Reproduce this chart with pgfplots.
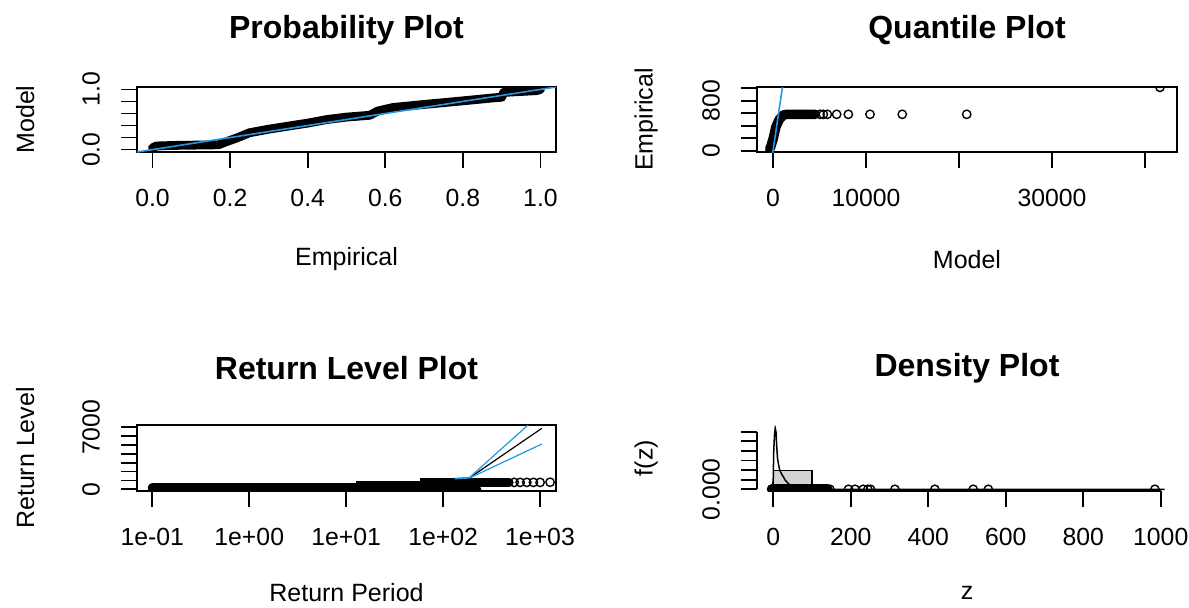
\documentclass[border=0pt]{standalone}
\usepackage{fontspec}
\setmainfont{Liberation Sans}
\usepackage{pgfplots}
\pgfplotsset{compat=1.18}

\definecolor{rblue}{HTML}{2297E6}
\definecolor{histgray}{HTML}{D3D3D3}

% one R-like panel: box, outside ticks on left/bottom, rotated y labels
\pgfplotsset{
  rpanel/.style={
    scale only axis,
    anchor=south west,
    axis line style={line width=0.9pt},
    tick align=outside, tick pos=left,
    major tick length=8pt,
    every tick/.append style={black, line width=0.9pt},
    minor tick num=0,
    scaled ticks=false,
    clip marker paths=true,
    tick label style={font=\fontsize{12.4}{14}\selectfont},
    xticklabel style={anchor=center},
    yticklabel style={rotate=90, anchor=center},
    xticklabel shift=15pt, yticklabel shift=15pt,
    label style={font=\fontsize{12.5}{15}\selectfont},
    title style={font=\bfseries\fontsize{16}{19}\selectfont, anchor=center},
  },
  toprow/.style={height=32.5pt,
    title style={at={(0.5,1.69)}},
    xlabel style={at={(axis description cs:0.5,-1.65)}, anchor=center}},
  botrow/.style={height=33pt,
    title style={at={(0.5,1.68)}},
    xlabel style={at={(axis description cs:0.5,-1.54)}, anchor=center}},
  circ/.style={only marks, mark=o, mark size=2.1pt, mark options={line width=0.7pt, black}},
}

\begin{document}
\begin{tikzpicture}
\useasboundingbox (0,0) rectangle (594.5pt,303.5pt);

% ---------------- Probability plot
\begin{axis}[rpanel, toprow, at={(68.5pt,227.5pt)}, width=209.5pt,
  xmin=-0.04, xmax=1.04, ymin=-0.04, ymax=1.04,
  xtick={0,0.2,0.4,0.6,0.8,1}, xticklabels={0.0,0.2,0.4,0.6,0.8,1.0},
  ytick={0,0.2,0.4,0.6,0.8,1}, yticklabels={0.0,,,,,1.0},
  title={Probability Plot},
  xlabel={Empirical},
  ylabel={Model}, ylabel style={at={(axis description cs:-0.267,0.5)}, anchor=center}]
\addplot[black, line width=4.4pt, line join=round, line cap=round] coordinates {
  (0.0,0.03)(0.01,0.06)(0.06,0.07)(0.17,0.08)(0.19,0.13)(0.22,0.2)(0.25,0.28)
  (0.3,0.34)(0.35,0.39)(0.4,0.44)(0.45,0.5)(0.5,0.54)(0.56,0.57)(0.58,0.64)
  (0.62,0.7)(0.7,0.75)(0.8,0.81)(0.88,0.86)(0.9,0.87)(0.905,0.95)(0.99,0.98)(1.0,1.0)
};
\addplot[rblue, line width=0.8pt] coordinates {(-0.04,-0.04)(1.04,1.04)};
\end{axis}

% ---------------- Quantile plot
\begin{axis}[rpanel, toprow, at={(378.5pt,227.5pt)}, width=210pt,
  xmin=-1720, xmax=43440, ymin=-21, ymax=1021,
  xtick={0,10000,20000,30000,40000}, xticklabels={0,10000,,30000,},
  ytick={0,200,400,600,800,1000}, yticklabels={0,,,,800,},
  title={Quantile Plot},
  xlabel={Model},
  ylabel={Empirical}, ylabel style={at={(axis description cs:-0.264,0.5)}, anchor=center}]
\addplot[black, line width=4.8pt, line join=round, line cap=round] coordinates {
  (-350,30)(-250,60)(30,199)(320,385)(680,503)(1110,572)(1470,583)(4520,583)
};
\addplot[circ] coordinates {
  (5054,583)(5409,583)(5839,583)(6846,583)(8100,583)(10430,583)(13900,583)(20830,583)(41610,1015)
};
\addplot[rblue, line width=0.8pt] coordinates {(-100,-100)(1100,1100)};
\end{axis}

% ---------------- Return level plot
\begin{axis}[rpanel, botrow, at={(68.5pt,58pt)}, width=209.5pt,
  xmode=log, log basis x=10, minor xtick={},
  xmin=0.0695, xmax=1462, ymin=-192, ymax=7260,
  xtick={0.1,1,10,100,1000}, xticklabels={1e-01,1e+00,1e+01,1e+02,1e+03},
  ytick={0,1000,2000,3000,4000,5000,6000,7000}, yticklabels={0,,,,,,,7000},
  title={Return Level Plot},
  xlabel={Return Period},
  ylabel={Return Level}, ylabel style={at={(axis description cs:-0.267,0.5)}, anchor=center}]
\addplot[black, line width=4.5pt, line cap=round] coordinates {(0.1,0)(223,0)};
\addplot[black, line width=4.5pt, line cap=round] coordinates {
  (0.1,170)(14,170)(14,430)(65,430)(65,730)(223,730)(223,770)(480,770)
};
\addplot[circ] coordinates {(541,780)(624,780)(731,780)(855,780)(1002,780)(1270,800)};
\addplot[black, line width=0.6pt] coordinates {(188,1300)(450,4150)(1045,6887)};
\addplot[rblue, line width=0.6pt] coordinates {(132,1240)(188,1350)(752,7257)(1045,8660)};
\addplot[rblue, line width=0.6pt] coordinates {(132,1180)(188,1280)(1045,5114)};
\end{axis}

% ---------------- Density plot
\begin{axis}[rpanel, botrow, at={(378.5pt,58pt)}, width=210pt,
  axis x line*=bottom, axis y line*=left,
  x axis line style={-, shorten <=8.15pt, shorten >=8.15pt},
  y axis line style={-, shorten <=0.85pt, shorten >=3.35pt},
  xmin=-42, xmax=1042, ymin=-0.00089, ymax=0.0335,
  xtick={0,200,400,600,800,1000}, xticklabels={0,200,400,600,800,1000},
  ytick={0,0.005,0.01,0.015,0.02,0.025,0.03}, yticklabels={0.000,,,,,,},
  title={Density Plot},
  xlabel={z},
  ylabel={f(z)}, ylabel style={at={(axis description cs:-0.264,0.5)}, anchor=center}]
\addplot[fill=histgray, draw=black, line width=0.6pt] coordinates {(0,0)(0,0.0098)(100,0.0098)(100,0)} -- cycle;
\addplot[black, line width=0.75pt] coordinates {
  (-8,0)(-2,0.0005)(0,0.006)(0.5,0.012)(1,0.019)(3,0.028)(5,0.0318)(7,0.030)(9,0.022)
  (11,0.016)(14,0.0125)(17,0.0098)(22,0.0078)(26,0.0065)(30,0.005)(35,0.0038)
  (43,0.0022)(55,0.001)(70,0.0004)(100,0.0001)(150,0)(1000,0)(1010,0)
};
\addplot[black, line width=5pt, line cap=round] coordinates {(-4,0)(140,0)};
\addplot[circ] coordinates {
  (146,0)(194,0)(211,0)(232,0)(244,0)(251,0)(314,0)(417,0)(516,0)(555,0)(985,0)
};
\end{axis}
\end{tikzpicture}
\end{document}
